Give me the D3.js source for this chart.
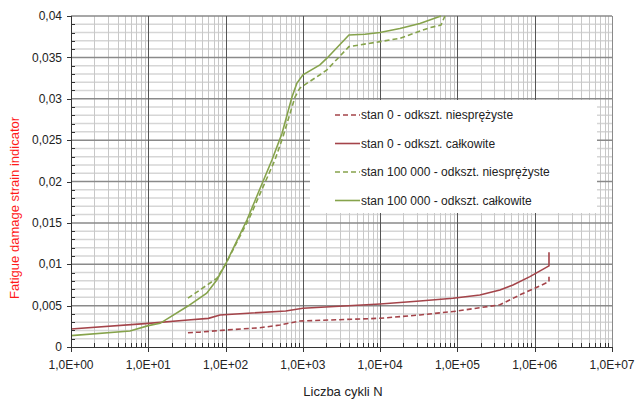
<!DOCTYPE html>
<meta charset="utf-8">
<style>
  body { margin: 0; background: #fff; }
  text { font-family: "Liberation Sans", Arial, sans-serif; }
</style>
<body>
<div class="chart"></div>
<script src="https://d3js.org/d3.v7.min.js"></script>
<script>

    // tick labels
    const xTicks = [1, 10, 100, 1e3, 1e4, 1e5, 1e6, 1e7];
    const xTickLabels = ["1,0E+00", "1,0E+01", "1,0E+02", "1,0E+03", "1,0E+04", "1,0E+05", "1,0E+06", "1,0E+07"];
    const yTicks = [0, 0.005, 0.01, 0.015, 0.02, 0.025, 0.03, 0.035, 0.04];
    const yTickLabels = ["0", "0,005", "0,01", "0,015", "0,02", "0,025", "0,03", "0,035", "0,04"];

    // stan 0 - odkszt. niesprężyste
    const s0InN = [32.6, 46.6, 100, 279, 506, 917, 9930, 32700, 100000, 195000, 355000, 644000, 1000000, 1530000, 1530000];
    const s0InV = [0.00173, 0.0018, 0.00205, 0.00233, 0.00266, 0.00314, 0.00347, 0.00387, 0.00435, 0.00475, 0.0051, 0.0063, 0.0071, 0.0079, 0.0085];

    // stan 0 - odkszt. całkowite
    const s0TotN = [1, 10, 32.6, 60, 84.7, 600, 1000, 10000, 32700, 87500, 195000, 355000, 523000, 867000, 1530000, 1530000];
    const s0TotV = [0.00218, 0.00286, 0.00326, 0.00346, 0.00387, 0.00435, 0.00468, 0.0052, 0.00556, 0.0059, 0.00628, 0.0069, 0.0075, 0.0085, 0.0098, 0.01144];

    // stan 100 000 - odkszt. niesprężyste
    const s1InN = [32.6, 77, 100, 207, 435, 553, 791, 917, 1663, 2050, 3950, 9930, 18000, 44100, 61200, 68900];
    const s1InV = [0.0059, 0.0083, 0.0100, 0.01575, 0.0226, 0.0254, 0.0302, 0.0313, 0.0329, 0.0335, 0.0363, 0.0369, 0.0373, 0.0386, 0.0389, 0.0400];

    // stan 100 000 - odkszt. całkowite
    const s1TotN = [1, 5.8, 10, 14.2, 32.6, 57, 77, 100, 189, 398, 537, 723, 839, 1003, 1663, 2050, 3950, 6350, 9930, 18000, 32700, 61200];
    const s1TotV = [0.00137, 0.00193, 0.00258, 0.00286, 0.00495, 0.0065, 0.0081, 0.0100, 0.01535, 0.0226, 0.0258, 0.0302, 0.0319, 0.0329, 0.0341, 0.0349, 0.0377, 0.0378, 0.0380, 0.0385, 0.0391, 0.0400];

    const seriesNames = ["stan 0 - odkszt. niesprężyste", "stan 0 - odkszt. całkowite",
        "stan 100 000 - odkszt. niesprężyste", "stan 100 000 - odkszt. całkowite"];

    const red = "#a4444a";
    const green = "#86a34c";

    let series = [
        {name: seriesNames[0], n: s0InN, v: s0InV, color: red, dash: "5,3"},
        {name: seriesNames[1], n: s0TotN, v: s0TotV, color: red, dash: null},
        {name: seriesNames[2], n: s1InN, v: s1InV, color: green, dash: "5,3"},
        {name: seriesNames[3], n: s1TotN, v: s1TotV, color: green, dash: null}
    ];

    let width = 637, height = 400;
    let plot = {left: 71, right: 612, top: 16, bottom: 347};

    let svg = d3.select(".chart").append("svg")
        .attr("width", width)
        .attr("height", height);

    let x = d3.scaleLog().domain([1, 1e7]).range([plot.left, plot.right]);
    let y = d3.scaleLinear().domain([0, 0.04]).range([plot.bottom, plot.top]);

    // minor values
    let xMinor = [];
    for (let d = 0; d < 7; d++) {
        for (let k = 2; k <= 9; k++) xMinor.push(k * Math.pow(10, d));
    }
    let yMinor = d3.range(1, 40).map(i => i * 0.001).filter(v => Math.round(v * 1000) % 5 !== 0);

    let grid = svg.append("g");
    grid.selectAll(".ymin").data(yMinor).join("line")
        .attr("x1", plot.left).attr("x2", plot.right)
        .attr("y1", d => y(d)).attr("y2", d => y(d))
        .attr("stroke", "#d6d6d6").attr("stroke-width", 1.5);
    grid.selectAll(".xmin").data(xMinor).join("line")
        .attr("x1", d => Math.round(x(d)) + 0.5).attr("x2", d => Math.round(x(d)) + 0.5)
        .attr("y1", plot.top).attr("y2", plot.bottom)
        .attr("stroke", "#c8c8c8").attr("stroke-width", 1);
    grid.selectAll(".ymaj").data(yTicks.slice(1)).join("line")
        .attr("x1", plot.left).attr("x2", plot.right)
        .attr("y1", d => y(d)).attr("y2", d => y(d))
        .attr("stroke", "#8a8a8a").attr("stroke-width", 1.5);
    grid.selectAll(".xmaj").data(xTicks.slice(1)).join("line")
        .attr("x1", d => Math.round(x(d)) + 0.5).attr("x2", d => Math.round(x(d)) + 0.5)
        .attr("y1", plot.top).attr("y2", plot.bottom)
        .attr("stroke", d => d === 1e7 ? "#8a8a8a" : "#555").attr("stroke-width", 1);

    // curves
    svg.append("clipPath").attr("id", "clip")
        .append("rect")
        .attr("x", plot.left).attr("y", plot.top - 1)
        .attr("width", plot.right - plot.left).attr("height", plot.bottom - plot.top + 1);

    let line = d3.line().x(d => x(d[0])).y(d => y(d[1]));

    svg.append("g").attr("clip-path", "url(#clip)")
        .selectAll("path")
        .data(series)
        .join("path")
        .attr("d", s => line(s.n.map((n, i) => [n, s.v[i]])))
        .attr("fill", "none")
        .attr("stroke", s => s.color)
        .attr("stroke-width", 1.6)
        .attr("stroke-dasharray", s => s.dash);

    // axes
    let axisColor = "#333";
    svg.append("line")
        .attr("x1", plot.left + 0.5).attr("x2", plot.left + 0.5)
        .attr("y1", plot.top).attr("y2", plot.bottom)
        .attr("stroke", axisColor);
    svg.append("line")
        .attr("x1", plot.left).attr("x2", plot.right + 1)
        .attr("y1", plot.bottom + 0.5).attr("y2", plot.bottom + 0.5)
        .attr("stroke", axisColor);

    // y ticks
    svg.append("g").selectAll("line").data(yTicks).join("line")
        .attr("x1", plot.left - 4).attr("x2", plot.left)
        .attr("y1", d => Math.round(y(d)) + 0.5).attr("y2", d => Math.round(y(d)) + 0.5)
        .attr("stroke", axisColor);
    svg.append("g").selectAll("line").data(yMinor).join("line")
        .attr("x1", plot.left).attr("x2", plot.left + 4)
        .attr("y1", d => Math.round(y(d)) + 0.5).attr("y2", d => Math.round(y(d)) + 0.5)
        .attr("stroke", axisColor);
    svg.append("g").selectAll("text").data(yTicks).join("text")
        .attr("x", plot.left - 9)
        .attr("y", d => y(d))
        .attr("dy", "0.35em")
        .attr("text-anchor", "end")
        .attr("font-size", 12)
        .attr("fill", "#222")
        .text((d, i) => yTickLabels[i]);

    // x ticks
    svg.append("g").selectAll("line").data(xTicks).join("line")
        .attr("x1", d => Math.round(x(d)) + 0.5).attr("x2", d => Math.round(x(d)) + 0.5)
        .attr("y1", plot.bottom).attr("y2", plot.bottom + 5)
        .attr("stroke", axisColor);
    svg.append("g").selectAll("line").data(xMinor).join("line")
        .attr("x1", d => Math.round(x(d)) + 0.5).attr("x2", d => Math.round(x(d)) + 0.5)
        .attr("y1", plot.bottom - 4).attr("y2", plot.bottom)
        .attr("stroke", axisColor);
    svg.append("g").selectAll("text").data(xTicks).join("text")
        .attr("x", d => x(d))
        .attr("y", plot.bottom + 22)
        .attr("text-anchor", "middle")
        .attr("font-size", 12)
        .attr("fill", "#222")
        .text((d, i) => xTickLabels[i]);

    // axis titles
    svg.append("text")
        .attr("x", 343).attr("y", 396)
        .attr("text-anchor", "middle")
        .attr("font-size", 13)
        .attr("fill", "#222")
        .text("Liczba cykli N");
    svg.append("text")
        .attr("transform", "translate(19,208) rotate(-90)")
        .attr("text-anchor", "middle")
        .attr("font-size", 13)
        .attr("fill", "#ff1a1a")
        .text("Fatigue damage strain indicator");

    // legend
    let legend = svg.append("g");
    legend.append("rect")
        .attr("x", 310).attr("y", 100)
        .attr("width", 287).attr("height", 113)
        .attr("fill", "#fff");
    let items = legend.selectAll("g").data(series).join("g")
        .attr("transform", (d, i) => `translate(335, ${115 + i * 28.5})`);
    items.append("line")
        .attr("x1", 0).attr("x2", 25)
        .attr("stroke", d => d.color)
        .attr("stroke-width", 1.6)
        .attr("stroke-dasharray", d => d.dash);
    items.append("text")
        .attr("x", 26).attr("dy", "0.35em")
        .attr("font-size", 12)
        .attr("fill", "#222")
        .text(d => d.name);

</script>
</body>
